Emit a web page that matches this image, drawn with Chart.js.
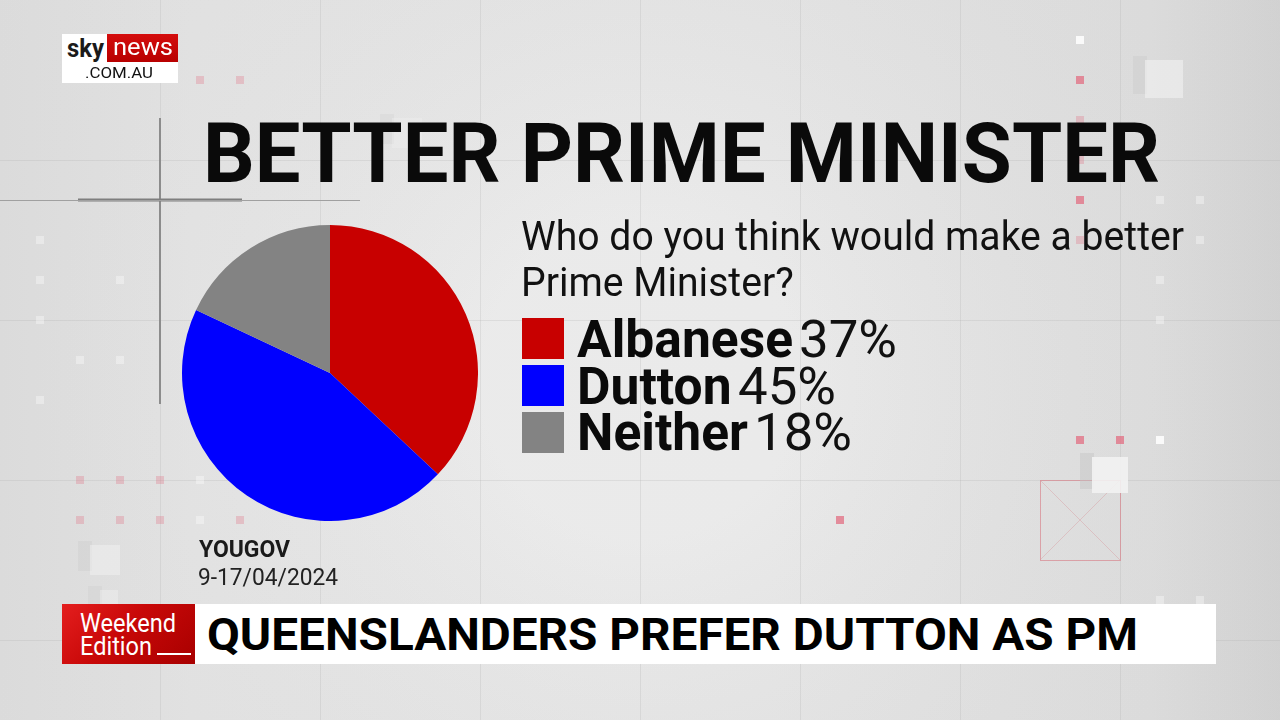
<!DOCTYPE html>
<html>
<head>
<meta charset="utf-8">
<script src="https://cdn.jsdelivr.net/npm/chart.js@4/dist/chart.umd.min.js"></script>
<style>
  html, body { margin:0; padding:0; }
  body { width:1280px; height:720px; overflow:hidden; position:relative; font-family: Roboto, "Noto Sans", sans-serif; background:#e6e6e6; }
  #bg { position:absolute; left:0; top:0; }
  #pieWrap { position:absolute; left:182px; top:225px; width:296px; height:296px; }
  .t { position:absolute; white-space:nowrap; line-height:1; transform-origin:0 0; }
  .box { position:absolute; }
</style>
</head>
<body>
<canvas id="bg" width="1280" height="720"></canvas>
<div id="pieWrap"><canvas id="pie" width="296" height="296"></canvas></div>
<div id="layer"></div>
<script>
// ---- data ----
const categories = ['Albanese', 'Dutton', 'Neither'];
const values = [37, 45, 18];
const sliceColors = ['#c80000', '#0000ff', '#838383'];
const title = 'BETTER PRIME MINISTER';
const questionLines = ['Who do you think would make a better', 'Prime Minister?'];
const sourceName = 'YOUGOV';
const sourceDate = '9-17/04/2024';
const headline = 'QUEENSLANDERS PREFER DUTTON AS PM';

// ---- background decorations ----
(function drawBg(){
  const c = document.getElementById('bg').getContext('2d');
  let g = c.createLinearGradient(0,0,1280,0);
  g.addColorStop(0,'#e3e3e3'); g.addColorStop(0.15,'#e9e9e9'); g.addColorStop(0.6,'#e8e8e8'); g.addColorStop(0.9,'#e3e3e3'); g.addColorStop(1,'#d9d9d9');
  c.fillStyle = g; c.fillRect(0,0,1280,720);
  let r = c.createRadialGradient(640,380,150,640,380,800);
  r.addColorStop(0,'rgba(255,255,255,0.10)'); r.addColorStop(1,'rgba(0,0,0,0.03)');
  c.fillStyle = r; c.fillRect(0,0,1280,720);
  // grid
  c.strokeStyle = 'rgba(170,170,170,0.22)'; c.lineWidth = 1;
  for (let x=160; x<1280; x+=160){ c.beginPath(); c.moveTo(x+0.5,0); c.lineTo(x+0.5,720); c.stroke(); }
  for (let y=160; y<720; y+=160){ c.beginPath(); c.moveTo(0,y+0.5); c.lineTo(1280,y+0.5); c.stroke(); }
  // cross
  c.strokeStyle = '#8c8c8c'; c.lineWidth = 2;
  c.beginPath(); c.moveTo(160,118); c.lineTo(160,404); c.stroke();
  c.strokeStyle = '#7e7e7e'; c.lineWidth = 3;
  c.beginPath(); c.moveTo(78,200); c.lineTo(242,200); c.stroke();
  c.strokeStyle = '#a0a0a0'; c.lineWidth = 1;
  c.beginPath(); c.moveTo(0,200.5); c.lineTo(360,200.5); c.stroke();
  // small squares
  const pink = 'rgba(225,110,130,0.75)', pinkL='rgba(225,110,130,0.3)', wht='rgba(255,255,255,0.85)', whtL='rgba(255,255,255,0.35)';
  const sq = [[200,80,pinkL],[240,80,pinkL],[1080,80,pink],[1080,40,wht],[1080,200,pink],[1080,120,pinkL],[1080,160,pinkL],[1080,240,pinkL],
              [1080,440,pink],[1120,440,pink],[1160,440,wht],[840,520,pink],
              [80,480,pinkL],[120,480,pinkL],[160,480,pinkL],[200,480,whtL],
              [80,520,pinkL],[120,520,pinkL],[160,520,pinkL],[200,520,whtL],[240,520,pinkL],
              [40,240,whtL],[40,280,whtL],[40,320,whtL],[40,400,whtL],[80,360,whtL],[120,360,whtL],[120,280,whtL],
              [1160,200,whtL],[1200,200,whtL],[1160,280,whtL],[1200,240,whtL],[1160,320,whtL],[1160,600,whtL],[1200,600,whtL]];
  sq.forEach(([x,y,col])=>{ c.fillStyle = col; c.fillRect(x-4,y-4,8,8); });
  // box with X
  c.strokeStyle = 'rgba(215,120,130,0.6)'; c.lineWidth = 1;
  c.strokeRect(1040.5,480.5,80,80);
  c.strokeStyle = 'rgba(215,150,155,0.4)';
  c.beginPath(); c.moveTo(1040,480); c.lineTo(1120,560); c.moveTo(1120,480); c.lineTo(1040,560); c.stroke();
  // cubes
  function cube(x,y,s,a){ c.fillStyle='rgba(195,195,195,'+(0.5*a)+')'; c.fillRect(x-12,y-4,14,s); c.fillStyle='rgba(242,242,242,'+a+')'; c.fillRect(x,y,s,s); }
  cube(1092,457,36,0.9); cube(1145,60,38,0.6); cube(90,545,30,0.5); cube(100,590,18,0.4); cube(392,118,30,0.35);
})();

// ---- pie ----
new Chart(document.getElementById('pie'), {
  type: 'pie',
  data: { labels: categories, datasets: [{ data: values, backgroundColor: sliceColors, borderWidth: 0 }] },
  options: {
    responsive: false, animation: false,
    layout: { padding: 0 },
    plugins: { legend: { display: false }, tooltip: { enabled: false } }
  }
});

// ---- text helpers ----
const layer = document.getElementById('layer');
const ASC = 0.842; // baseline offset in em for Roboto with line-height 1
function txt(str, x, baseline, size, weight, color, targetW){
  const d = document.createElement('div');
  d.className = 't'; d.textContent = str;
  d.style.fontSize = size + 'px'; d.style.fontWeight = weight; d.style.color = color;
  d.style.left = x + 'px'; d.style.top = (baseline - ASC*size) + 'px';
  layer.appendChild(d);
  const w = d.getBoundingClientRect().width;
  let sx = 1;
  if (targetW) { sx = targetW / w; d.style.transform = 'scaleX(' + sx + ')'; }
  return { el: d, w: w, sx: sx };
}
function box(x,y,w,h,bg){ const b=document.createElement('div'); b.className='box'; Object.assign(b.style,{left:x+'px',top:y+'px',width:w+'px',height:h+'px',background:bg}); layer.appendChild(b); return b; }

// logo
box(62,34,116,49,'#ffffff');
box(107,34,71,28,'linear-gradient(#d40d0d,#b80000)');
txt('sky', 67, 57, 25, 700, '#1a1a1a', 37);
txt('news', 113, 55, 24, 400, '#ffffff', 60);
txt('.COM.AU', 85, 78, 14, 400, '#111111', 68);

// title
txt(title, 203, 182, 83, 700, '#0a0a0a', 957);

// question
const q1 = txt(questionLines[0], 521, 251, 40, 400, '#111111', 663);
const q2 = txt(questionLines[1], 521, 297, 40, 400, '#111111');
q2.el.style.transform = 'scaleX(' + q1.sx + ')';

// legend
const legTops = [318, 365, 412];
const legBase = [357, 404, 450];
let nameScale = null, pctScale = null;
categories.forEach((name, i) => {
  box(522, legTops[i], 42, 41, sliceColors[i]);
  const n = txt(name, 577, legBase[i], 51, 700, '#0a0a0a');
  if (nameScale === null) nameScale = 216 / n.w;
  n.el.style.transform = 'scaleX(' + nameScale + ')';
  const nx = 577 + n.w * nameScale + 6;
  const p = txt(values[i] + '%', nx, legBase[i], 51, 400, '#111111');
  if (pctScale === null) pctScale = 98 / p.w;
  p.el.style.transform = 'scaleX(' + pctScale + ')';
});

// source
txt(sourceName, 199, 557, 24, 700, '#1a1a1a', 91);
txt(sourceDate, 198, 585, 23, 400, '#222222', 140);

// banner
box(195, 604, 1021, 60, '#ffffff');
box(62, 604, 133, 60, 'linear-gradient(135deg,#e41e1e 0%,#c80808 45%,#a80000 100%)');
txt('Weekend', 80, 632, 25, 400, '#ffffff', 96);
txt('Edition', 80, 655, 25, 400, '#ffffff', 72);
box(157, 653, 34, 2, '#ffffff');
txt(headline, 207, 650, 45, 700, '#000000', 931);
</script>
</body>
</html>
